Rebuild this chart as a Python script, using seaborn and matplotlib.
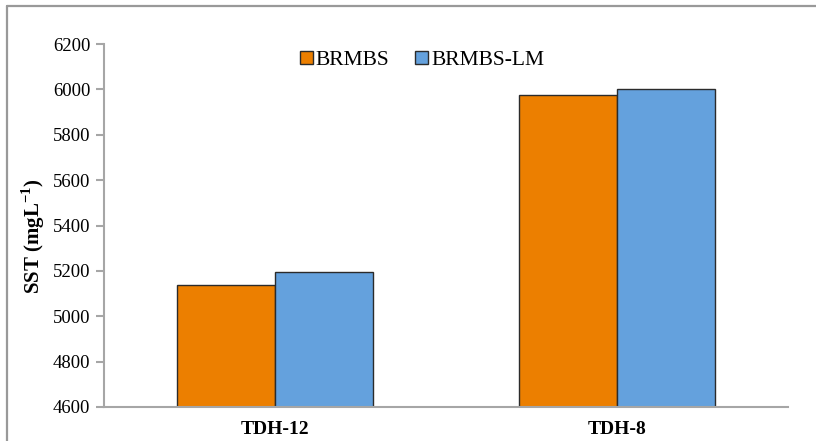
import matplotlib
matplotlib.use("Agg")
import matplotlib.pyplot as plt
from matplotlib.lines import Line2D
import seaborn as sns
import pandas as pd

# SST by hydraulic retention time for the two reactors
categories = ["TDH-12", "TDH-8"]
series_names = ["BRMBS", "BRMBS-LM"]
brmbs = [5140, 5975]
brmbs_lm = [5195, 6000]
y_ticks = [4600, 4800, 5000, 5200, 5400, 5600, 5800, 6000, 6200]

colors = ["#EC7F00", "#64A1DD"]

df = pd.DataFrame({
    "TDH": categories * 2,
    "Reator": [series_names[0]] * 2 + [series_names[1]] * 2,
    "SST": brmbs + brmbs_lm,
})

sns.set_theme(style="white")
plt.rcParams["font.family"] = ["Liberation Serif", "DejaVu Serif"]
plt.rcParams["text.color"] = "black"
plt.rcParams["xtick.labelcolor"] = "black"
plt.rcParams["ytick.labelcolor"] = "black"
plt.rcParams["axes.labelcolor"] = "black"

fig = plt.figure(figsize=(8.16, 4.41), dpi=100)
ax = fig.add_axes([0.1275, 0.0771, 0.8382, 0.8229])

sns.barplot(data=df, x="TDH", y="SST", hue="Reator", palette=colors,
            width=0.573, edgecolor="#2b2b2b", linewidth=1.0, ax=ax,
            saturation=1.0, errorbar=None)

ax.set_ylim(y_ticks[0], y_ticks[-1])
ax.set_xlim(-0.5, len(categories) - 0.5)
ax.set_yticks(y_ticks)
ax.set_yticklabels([str(t) for t in y_ticks], fontsize=13.5)

# category labels without ticks; boundary ticks drawn as minor ticks
ax.set_xticks(range(len(categories)))
ax.set_xticklabels(categories, fontsize=14, fontweight="bold")
ax.set_xticks([-0.5, 0.5, 1.5], minor=True)
ax.tick_params(axis="x", which="major", length=0, pad=10)
ax.tick_params(axis="x", which="minor", length=6, width=1.5, color="#a6a6a6",
               direction="out")
ax.tick_params(axis="y", length=6, width=1.5, color="#a6a6a6", direction="out",
               pad=4, left=True)

for side in ["top", "right"]:
    ax.spines[side].set_visible(False)
for side in ["left", "bottom"]:
    ax.spines[side].set_color("#a6a6a6")
    ax.spines[side].set_linewidth(1.5)

ax.set_xlabel("")
ax.set_ylabel(r"SST (mgL$^{\mathregular{-1}}$)", fontsize=15,
              fontweight="bold", labelpad=4)
ax.yaxis.label.set_y(0.47)

handles, labels = ax.get_legend_handles_labels()
ax.legend(handles, labels, loc="upper center", bbox_to_anchor=(0.465, 1.035),
          ncol=2, frameon=False, fontsize=15.5, handlelength=0.6,
          handleheight=0.6, handletextpad=0.15, columnspacing=1.2)

# outer chart frame
fig.add_artist(Line2D([7 / 816, 7 / 816], [0, 1 - 6 / 441],
                      transform=fig.transFigure, color="#999999", lw=1.6))
fig.add_artist(Line2D([7 / 816, 1], [1 - 6 / 441, 1 - 6 / 441],
                      transform=fig.transFigure, color="#999999", lw=1.6))

fig.savefig("out.png", dpi=100, facecolor="white")
